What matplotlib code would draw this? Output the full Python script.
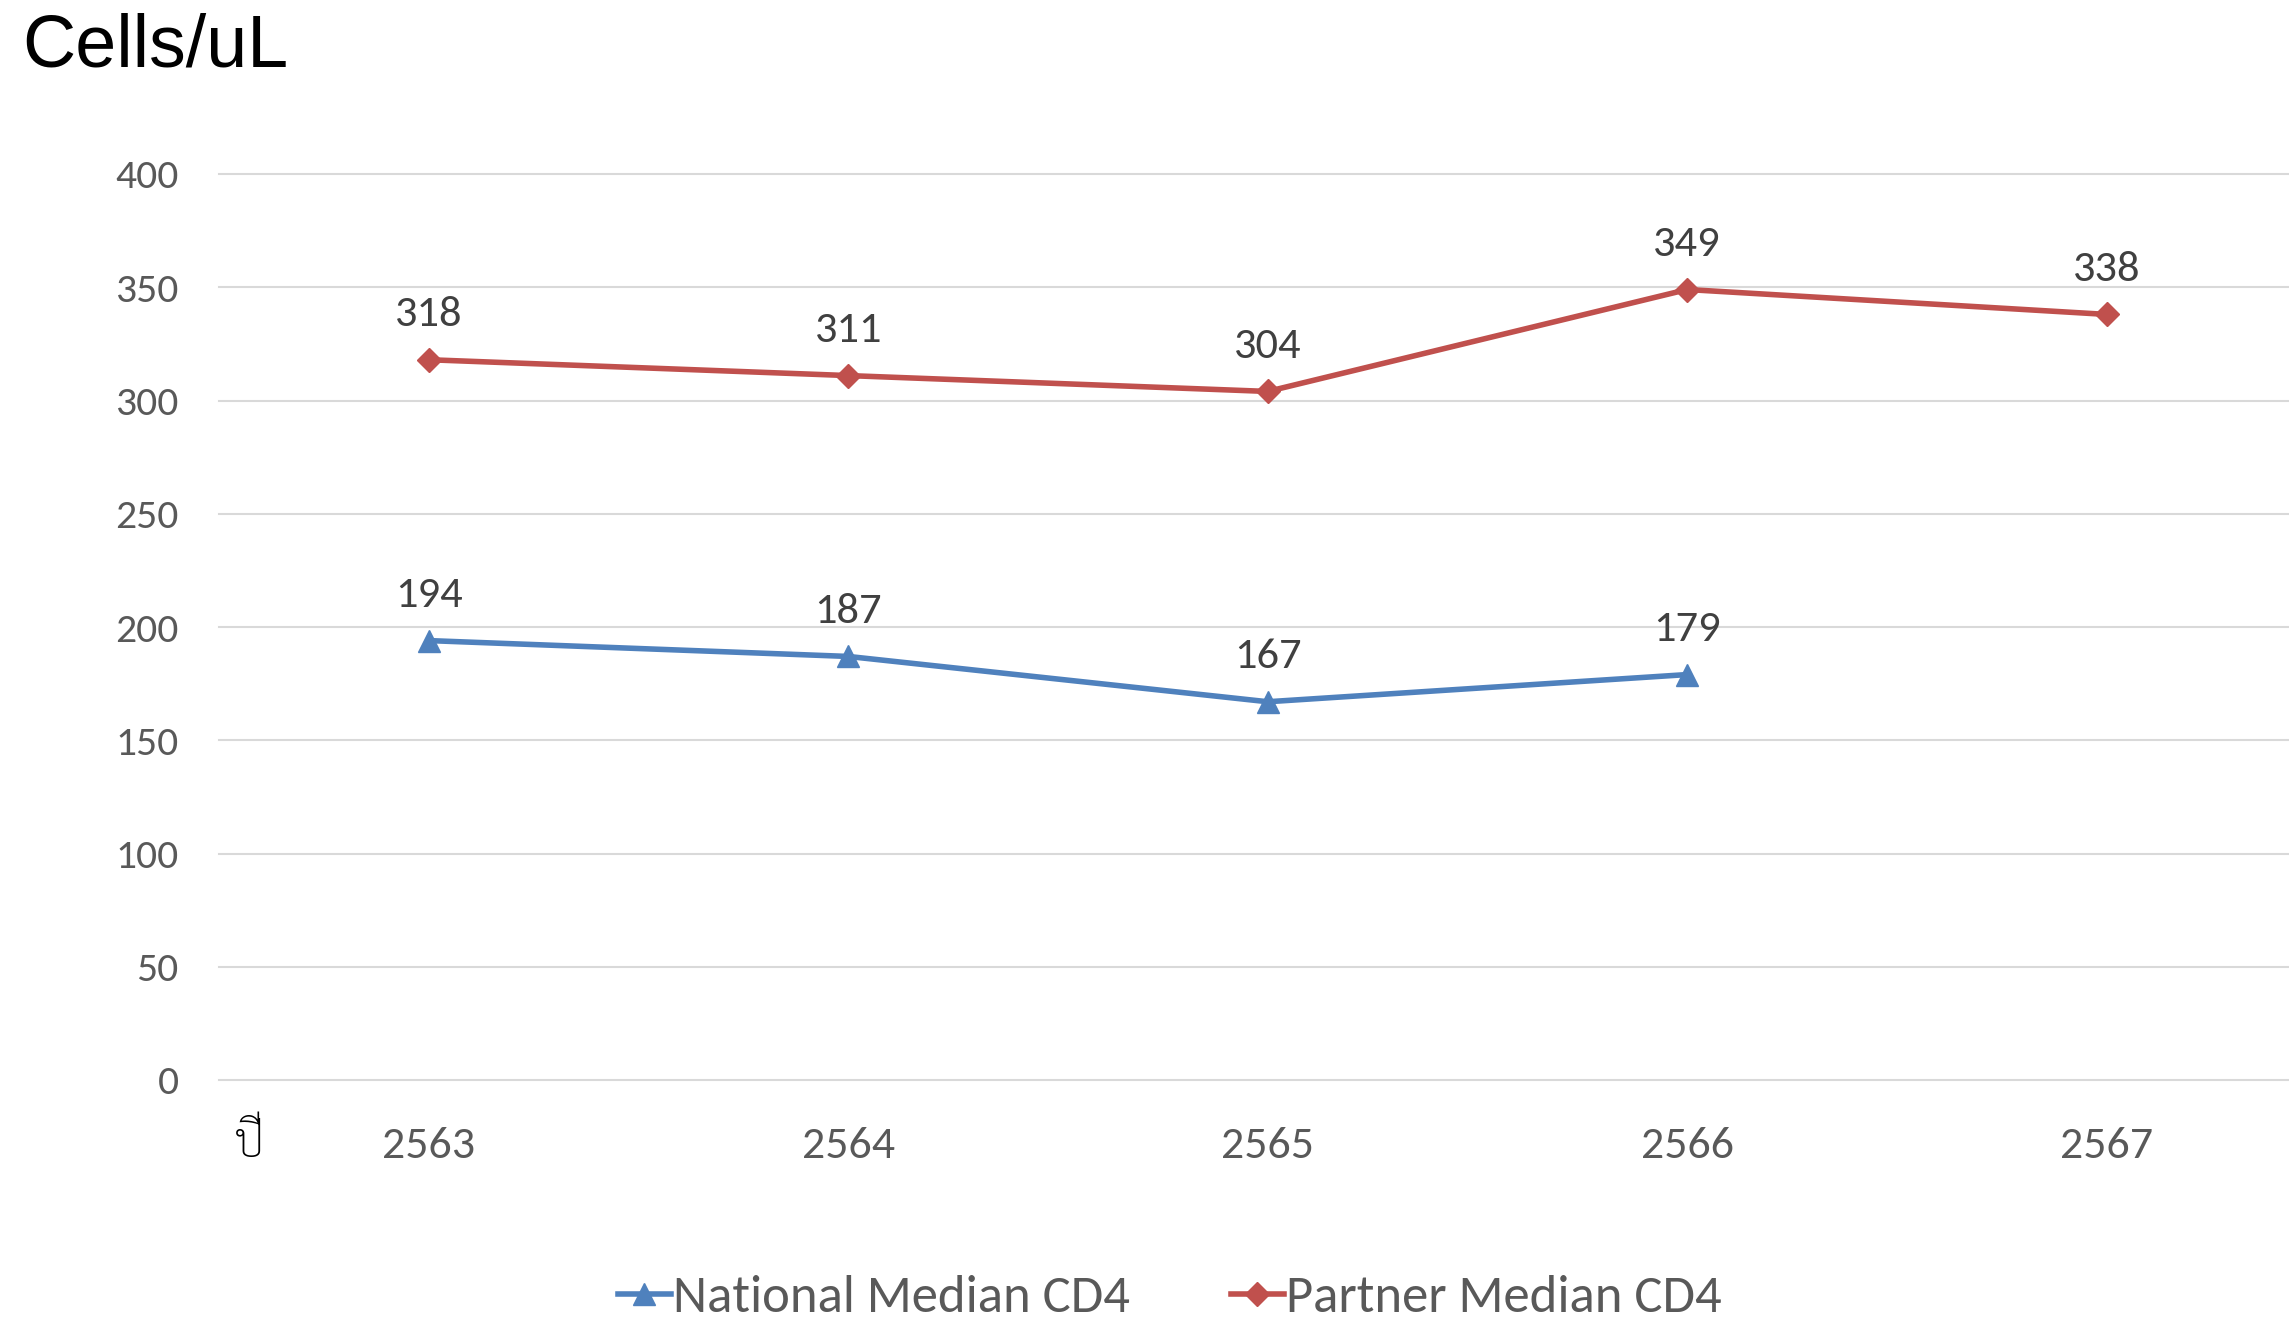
#!/usr/bin/env python3
"""
Median CD4 count, national vs partner, by Thai year.
"""

import matplotlib
matplotlib.use("Agg")
import matplotlib.pyplot as plt

years = ["2563", "2564", "2565", "2566", "2567"]
national = [194, 187, 167, 179]
partner = [318, 311, 304, 349, 338]
yticks = [0, 50, 100, 150, 200, 250, 300, 350, 400]

BLUE = "#4F81BD"
RED = "#C0504D"
GRID = "#D9D9D9"
TICK = "#595959"
LABEL = "#404040"


def main():
    plt.rcParams["font.family"] = ["Carlito", "Sarabun", "DejaVu Sans"]

    fig = plt.figure(figsize=(22.89, 13.25), dpi=100)
    ax = fig.add_axes([219 / 2289, 1 - 1080 / 1325, 1 - 219 / 2289, (1080 - 174) / 1325])

    xs = list(range(len(years)))
    ax.plot(xs[:len(national)], national, color=BLUE, lw=4, marker="^", ms=16,
            label="National Median CD4")
    ax.plot(xs, partner, color=RED, lw=4, marker="D", ms=12,
            label="Partner Median CD4")

    for x, v in zip(xs, national):
        ax.annotate(str(v), (x, v), xytext=(0, 24), textcoords="offset points",
                    ha="center", va="baseline", fontsize=32, color=LABEL)
    for x, v in zip(xs, partner):
        ax.annotate(str(v), (x, v), xytext=(0, 24), textcoords="offset points",
                    ha="center", va="baseline", fontsize=32, color=LABEL)

    ax.set_xlim(-0.5, -0.5 + (2289 - 219) / 419.5)
    ax.set_ylim(0, 400)
    ax.set_yticks(yticks)
    ax.set_xticks(xs)
    ax.set_xticklabels(years)
    ax.tick_params(axis="y", length=0, pad=29, labelsize=30, labelcolor=TICK)
    ax.tick_params(axis="x", length=0, pad=34, labelsize=33, labelcolor=TICK)
    for s in ax.spines.values():
        s.set_visible(False)
    ax.grid(axis="y", color=GRID, lw=1.5)
    for gl in ax.get_ygridlines():
        gl.set_clip_on(False)
    ax.set_axisbelow(True)

    fig.text(22 / 2289, 1 - 47 / 1325, "Cells/uL", fontsize=53,
             family="Liberation Sans", ha="left", va="center", color="black")
    fig.text(249 / 2289, 1 - 1145 / 1325, "ปี", fontsize=34, fontweight="light",
             family=["Sarabun", "DejaVu Sans"], ha="center", va="center", color="black")

    fig.legend(loc="center", bbox_to_anchor=(1170 / 2289, 1 - 1298 / 1325),
               ncol=2, frameon=False, fontsize=38, labelcolor=TICK,
               handlelength=1.0, handletextpad=0.05, columnspacing=1.9)

    fig.savefig("out.png", dpi=100)


if __name__ == "__main__":
    main()
